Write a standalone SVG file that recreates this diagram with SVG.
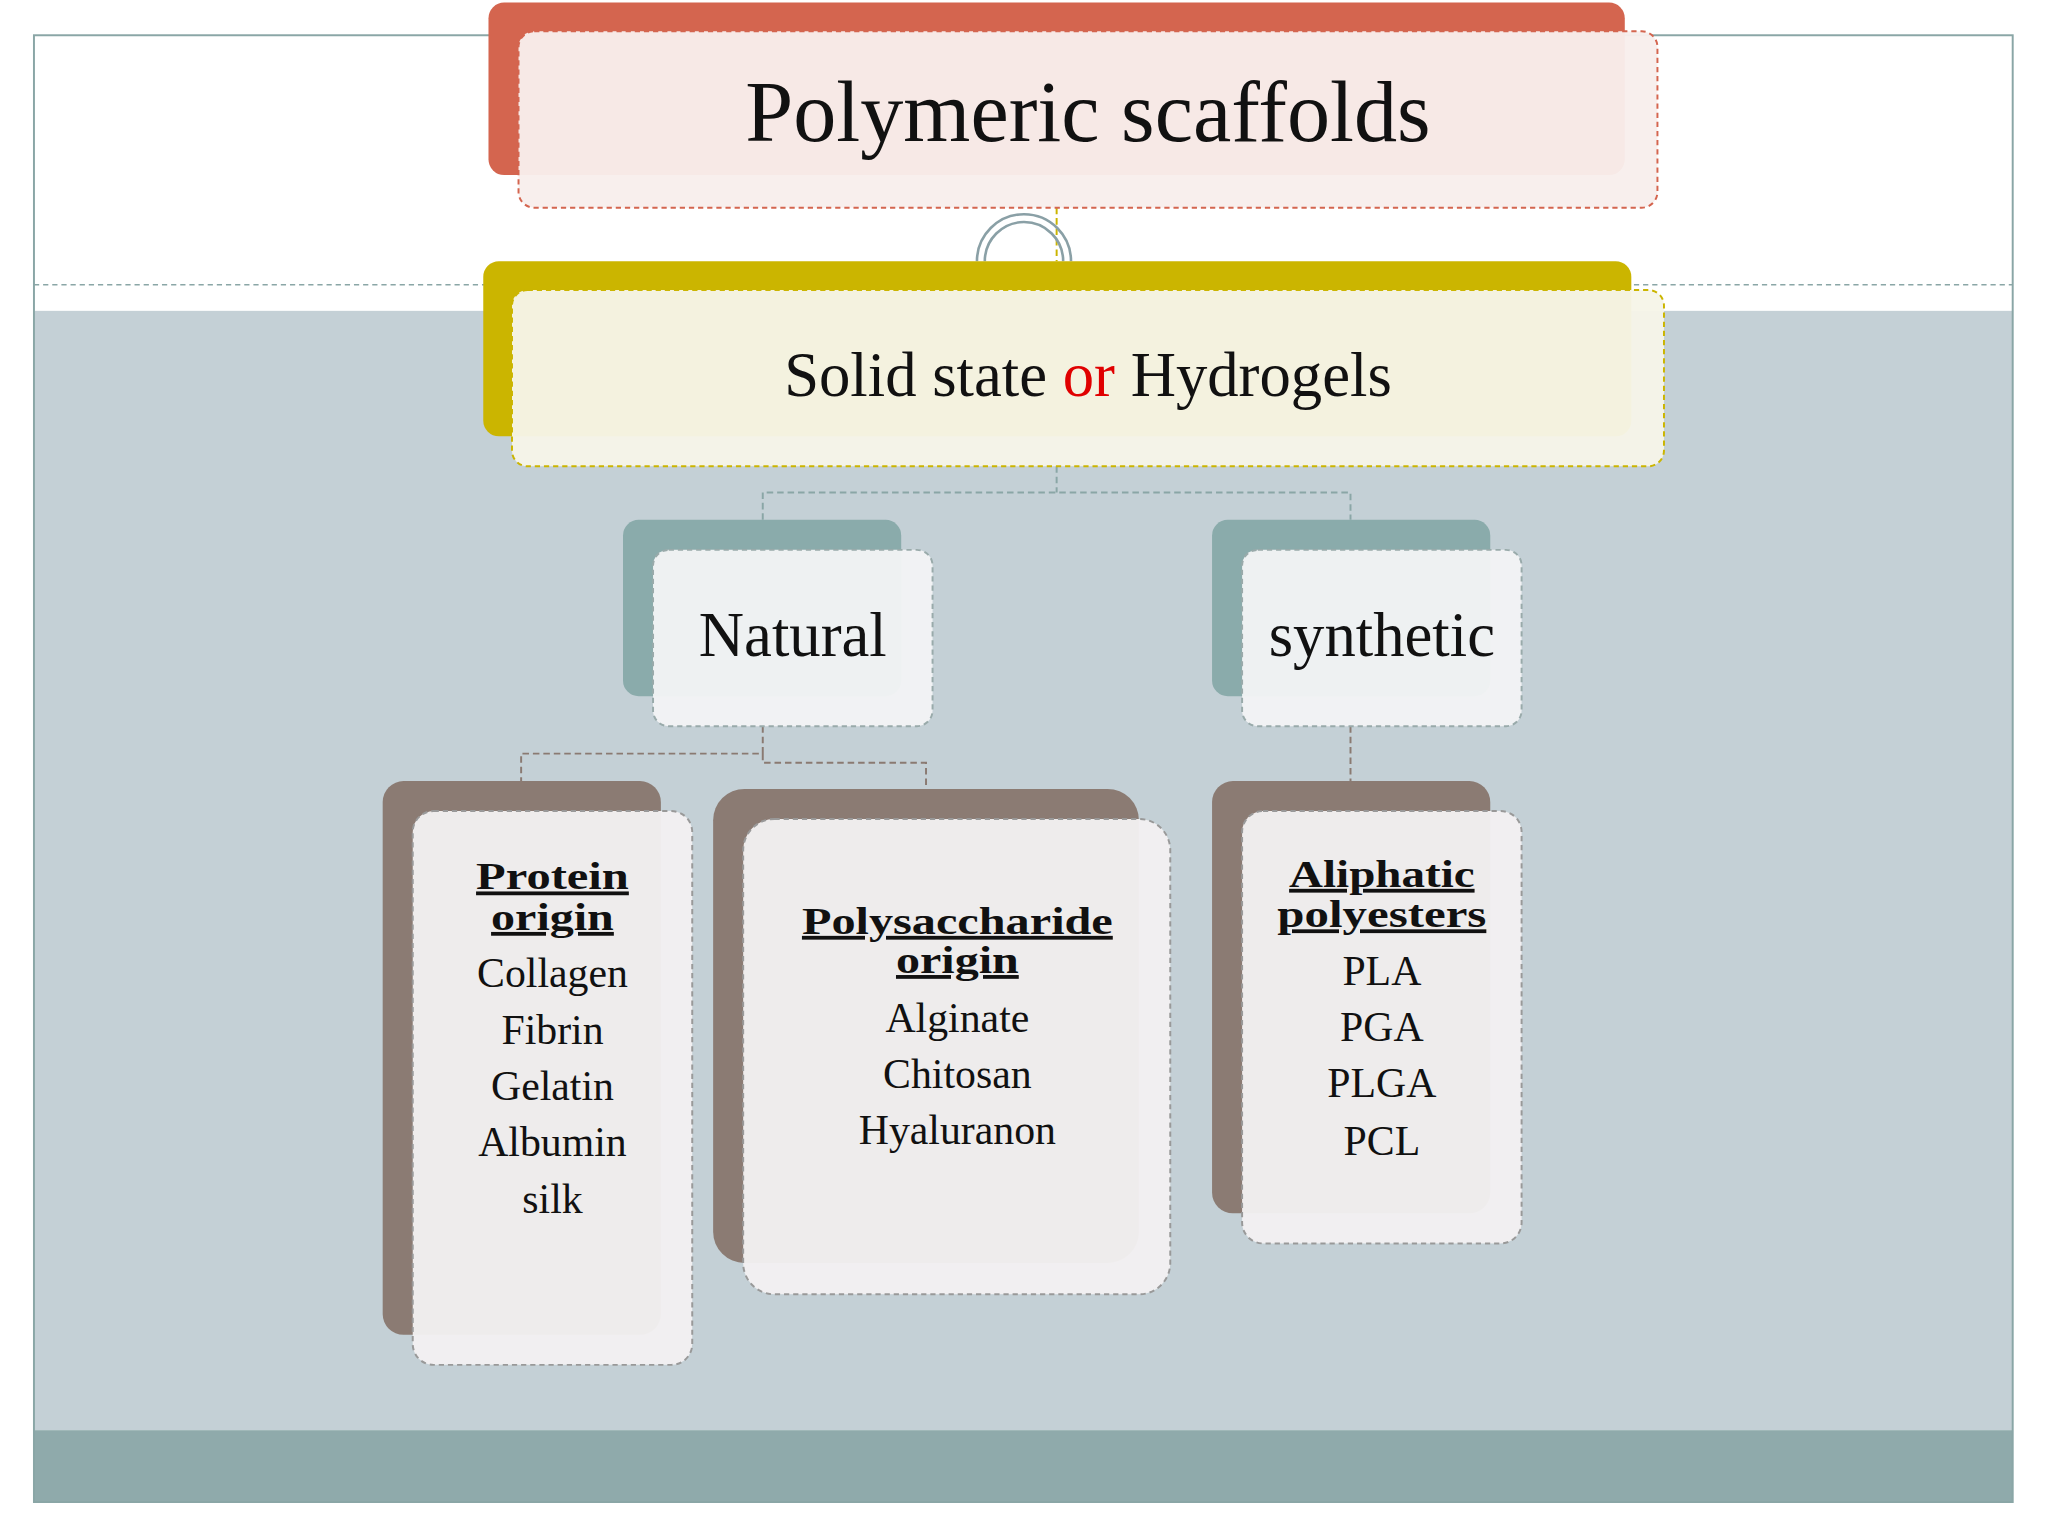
<svg xmlns="http://www.w3.org/2000/svg" width="2048" height="1536" viewBox="0 0 2048 1536">
<style>
text{font-family:"Liberation Serif","DejaVu Serif",serif;text-anchor:middle;fill:#111}
.b{font-weight:bold;text-decoration:underline;font-size:29px}
.l{font-size:32px}
.fr{stroke-dasharray:4 3;stroke-width:1.5}
.c{fill:none;stroke-dasharray:5 3;stroke-width:1.5}
</style>
<rect width="2048" height="1536" fill="#fff"/>
<g transform="scale(1.3061)">
<g id="background">
<rect x="26" y="238" width="1515" height="857" fill="#c4d0d6"/>
<rect x="26" y="1095" width="1515" height="55" fill="#8faaab"/>
<rect x="26" y="27" width="1515" height="1123" fill="none" stroke="#8aa6a6" stroke-width="1.5"/>
<line x1="26" y1="218" x2="1541" y2="218" stroke="#8aa6a6" stroke-dasharray="4 3"/>
</g>
<g id="connectors">
<line x1="809" y1="159" x2="809" y2="200" class="c" stroke="#cbb500"/>
<path d="M748 200 A36 36 0 0 1 820 200 M754 200 A30 30 0 0 1 814 200" fill="none" stroke="#8aa0a6" stroke-width="2"/>
<path d="M809 357 V377 M584 398 V377 H1034 V398" class="c" stroke="#8aa6a6"/>
<path d="M584 556 V577 H399 V598 M584 577 V584 H709 V604" class="c" stroke="#8a7a72"/>
<path d="M1034 556 V598" class="c" stroke="#8a7a72"/>
</g>
<g id="title">
<rect x="374" y="2" width="870" height="132" rx="12" fill="#d4654f"/>
<rect x="397" y="24" width="872" height="135" rx="12" fill="#f8eeec" fill-opacity="0.96" stroke="#d4654f" class="fr"/>
<text x="833" y="108" font-size="66">Polymeric scaffolds</text>
</g>
<g id="state">
<rect x="370" y="200" width="879" height="134" rx="12" fill="#cbb500"/>
<rect x="392" y="222" width="882" height="135" rx="12" fill="#f6f5e8" fill-opacity="0.96" stroke="#cbb500" class="fr"/>
<text x="833" y="303" font-size="48">Solid state <tspan fill="#e00000">or</tspan>  Hydrogels</text>
</g>
<g id="natural">
<rect x="477" y="398" width="213" height="135" rx="12" fill="#8aabab"/>
<rect x="500" y="421" width="214" height="135" rx="12" fill="#f2f4f5" fill-opacity="0.96" stroke="#9aa" class="fr"/>
<text x="607" y="502" font-size="48">Natural</text>
</g>
<g id="synthetic">
<rect x="928" y="398" width="213" height="135" rx="12" fill="#8aabab"/>
<rect x="951" y="421" width="214" height="135" rx="12" fill="#f2f4f5" fill-opacity="0.96" stroke="#9aa" class="fr"/>
<text x="1058" y="502" font-size="48">synthetic</text>
</g>
<g id="protein">
<rect x="293" y="598" width="213" height="424" rx="16" fill="#8b7b73"/>
<rect x="316" y="621" width="214" height="424" rx="16" fill="#f2f0f1" fill-opacity="0.96" stroke="#999" class="fr"/>
<text x="423" y="681" class="b" textLength="117" lengthAdjust="spacingAndGlyphs">Protein</text>
<text x="423" y="712" class="b" textLength="94" lengthAdjust="spacingAndGlyphs">origin</text>
<text x="423" y="756" class="l">Collagen</text>
<text x="423" y="799" class="l">Fibrin</text>
<text x="423" y="842" class="l">Gelatin</text>
<text x="423" y="885" class="l">Albumin</text>
<text x="423" y="929" class="l">silk</text>
</g>
<g id="polysaccharide">
<rect x="546" y="604" width="326" height="363" rx="24" fill="#8b7b73"/>
<rect x="569" y="627" width="327" height="364" rx="24" fill="#f2f0f1" fill-opacity="0.96" stroke="#999" class="fr"/>
<text x="733" y="715" class="b" textLength="238" lengthAdjust="spacingAndGlyphs">Polysaccharide</text>
<text x="733" y="745" class="b" textLength="94" lengthAdjust="spacingAndGlyphs">origin</text>
<text x="733" y="790" class="l">Alginate</text>
<text x="733" y="833" class="l">Chitosan</text>
<text x="733" y="876" class="l">Hyaluranon</text>
</g>
<g id="aliphatic">
<rect x="928" y="598" width="213" height="331" rx="16" fill="#8b7b73"/>
<rect x="951" y="621" width="214" height="331" rx="16" fill="#f2f0f1" fill-opacity="0.96" stroke="#999" class="fr"/>
<text x="1058" y="679" class="b" textLength="142" lengthAdjust="spacingAndGlyphs">Aliphatic</text>
<text x="1058" y="710" class="b" textLength="160" lengthAdjust="spacingAndGlyphs">polyesters</text>
<text x="1058" y="754" class="l">PLA</text>
<text x="1058" y="797" class="l">PGA</text>
<text x="1058" y="840" class="l">PLGA</text>
<text x="1058" y="884" class="l">PCL</text>
</g>
</g>
</svg>
